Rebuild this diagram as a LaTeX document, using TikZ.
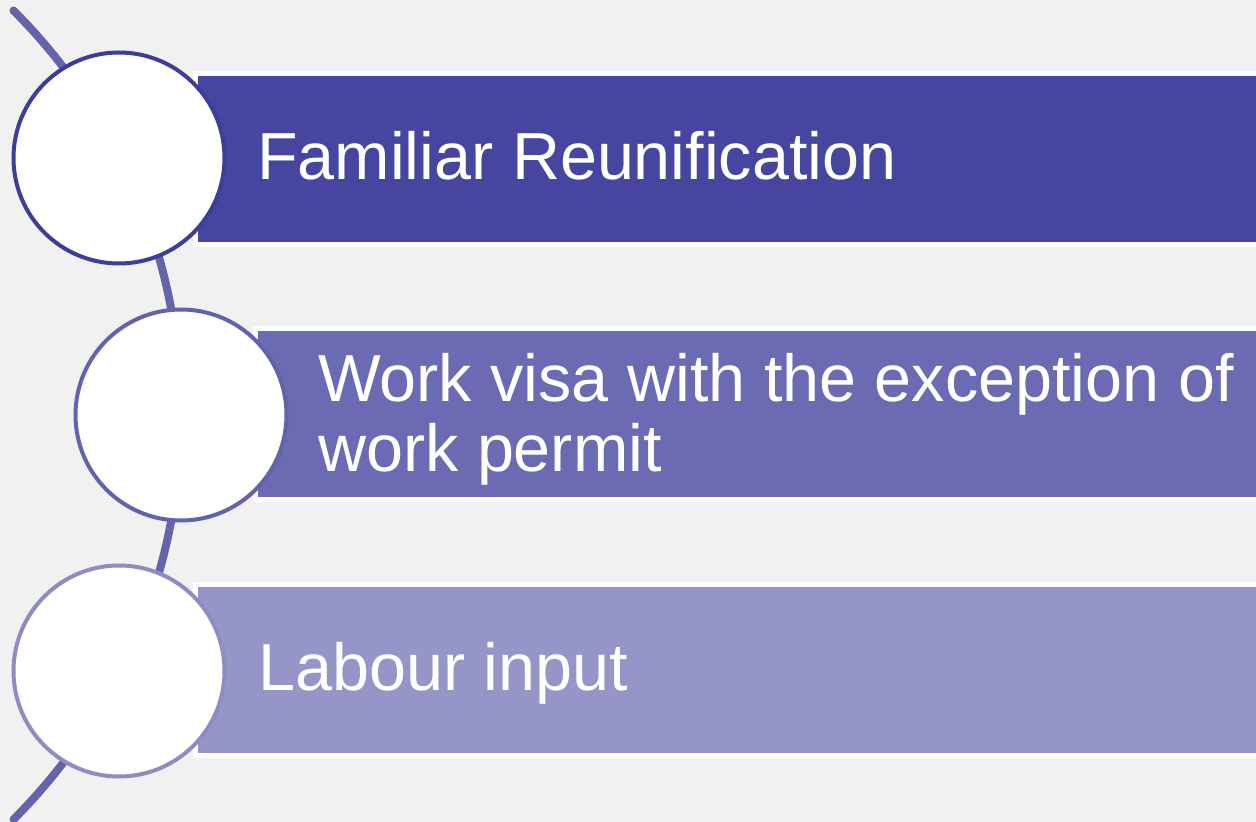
\documentclass[tikz,border=0pt]{standalone}
\usepackage{fontspec}
\setmainfont{Liberation Sans}
\definecolor{bgfill}{HTML}{F1F1F1}
\definecolor{stepA}{HTML}{4646A0}
\definecolor{stepB}{HTML}{6B6BB3}
\definecolor{stepC}{HTML}{9595C7}
\definecolor{ringA}{HTML}{3D3D9B}
\definecolor{ringB}{HTML}{6262AE}
\definecolor{ringC}{HTML}{8D8DC4}
\definecolor{spine}{HTML}{6464AC}
\tikzset{
  bar/.style={rectangle, draw=white, line width=5pt, minimum width=1100pt,
    minimum height=171pt, anchor=west, inner sep=0pt},
  disc/.style={circle, fill=white, line width=4pt, minimum size=211pt, inner sep=0pt},
  steptext/.style={text=white, anchor=base west, inner sep=0pt, align=left,
    font=\fontsize{66.5}{70}\selectfont}
}
\begin{document}
\begin{tikzpicture}[x=1pt,y=1pt]
\useasboundingbox (0,0) rectangle (1256,822);
\fill[bgfill] (0,0) rectangle (1256,822);
\clip (0,0) rectangle (1256,822);
\coordinate (top) at (13.5,811.5);
\draw[spine,line width=8pt,line cap=round] (top) arc (45:-45:572);
\node[bar,fill=stepA] (bar1) at (192.5,663) {};
\node[bar,fill=stepB] (bar2) at (252.5,407.5) {};
\node[bar,fill=stepC] (bar3) at (192.5,151.5) {};
\node[disc,draw=ringA] (disc1) at (119,664) {};
\node[disc,draw=ringB] (disc2) at (181,407) {};
\node[disc,draw=ringC] (disc3) at (119,151) {};
\node[steptext] (lab1) at (257,642) {Familiar Reunification};
\node[steptext] (lab2) at (318,350) {Work visa with the exception of\\work permit};
\node[steptext] (lab3) at (258,131) {Labour input};
\end{tikzpicture}
\end{document}
